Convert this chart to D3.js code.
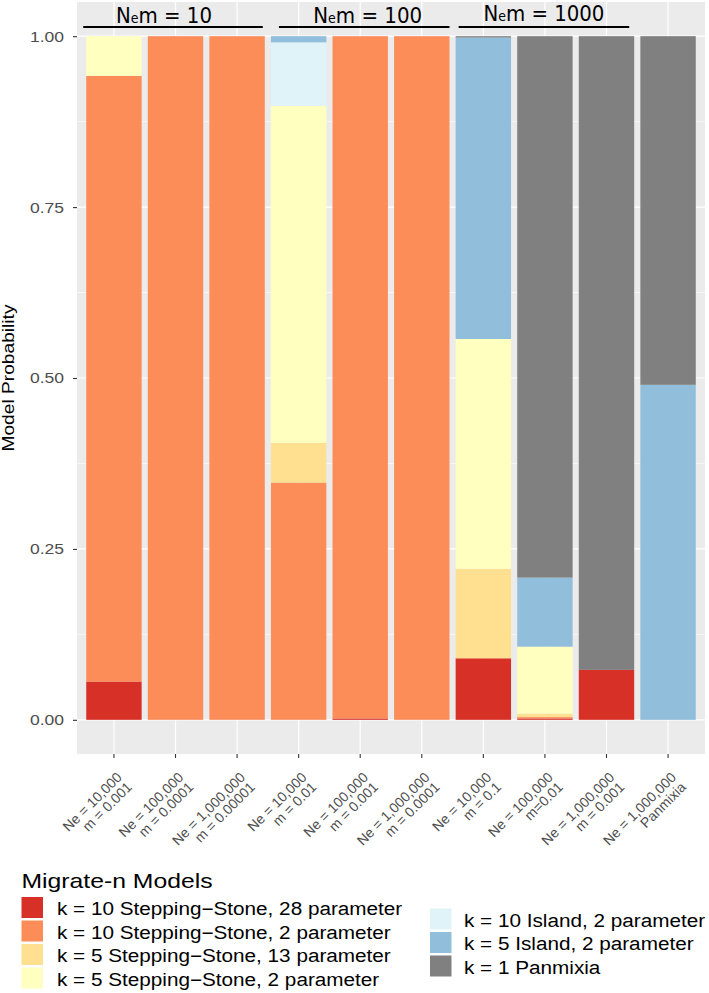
<!DOCTYPE html>
<html><head><meta charset="utf-8">
<script src="https://cdn.jsdelivr.net/npm/d3@7"></script>
<style>body{margin:0;background:#fff}</style>
</head><body>
<svg id="c" width="709" height="993"></svg>
<script>
const categories = [
  ["Ne = 10,000","m = 0.001"],
  ["Ne = 100,000","m = 0.0001"],
  ["Ne = 1,000,000","m = 0.00001"],
  ["Ne = 10,000","m = 0.01"],
  ["Ne = 100,000","m = 0.001"],
  ["Ne = 1,000,000","m = 0.0001"],
  ["Ne = 10,000","m = 0.1"],
  ["Ne = 100,000","m=0.01"],
  ["Ne = 1,000,000","m = 0.001"],
  ["Ne = 1,000,000","Panmixia"]
];
const models = [
  "k = 10 Stepping\u2212Stone, 28 parameter",
  "k = 10 Stepping\u2212Stone, 2 parameter",
  "k = 5 Stepping\u2212Stone, 13 parameter",
  "k = 5 Stepping\u2212Stone, 2 parameter",
  "k = 10 Island, 2 parameter",
  "k = 5 Island, 2 parameter",
  "k = 1 Panmixia"
];
const colors = ["#D73027","#FC8D59","#FEE090","#FFFFBF","#E0F3F8","#91BFDB","#808080"];
// values per model (rows) for each category (columns)
const ss28   = [0.056, 0,     0,     0,     0.002, 0,     0.090, 0.002, 0.073, 0];
const ss2    = [0.886, 1.000, 1.000, 0.347, 0.998, 1.000, 0,     0.002, 0,     0];
const ss13   = [0,     0,     0,     0.058, 0,     0,     0.131, 0.005, 0,     0];
const ss5_2  = [0.058, 0,     0,     0.493, 0,     0,     0.336, 0.098, 0,     0];
const isl10  = [0,     0,     0,     0.093, 0,     0,     0,     0,     0,     0];
const isl5   = [0,     0,     0,     0.009, 0,     0,     0.441, 0.101, 0,     0.490];
const panmix = [0,     0,     0,     0,     0,     0,     0.002, 0.792, 0.927, 0.510];
const seriesValues = [ss28, ss2, ss13, ss5_2, isl10, isl5, panmix];
const yTicks = [0, 0.25, 0.5, 0.75, 1.0];
const yTickLabels = ["0.00","0.25","0.50","0.75","1.00"];
const groups = [
  {label:"10", from:0, to:2},
  {label:"100", from:3, to:5},
  {label:"1000", from:6, to:8}
];

const svg = d3.select("#c");
const L = 77, R = 705, T = 2, B = 754;
const x = d3.scaleBand().domain(d3.range(categories.length)).range([L, R]).paddingInner(0.1).paddingOuter(0.15);
const y = d3.scaleLinear().domain([-0.05, 1.05]).range([B, T]);
const sf = "Liberation Sans, Arial, Helvetica, sans-serif";
function stretch(sel, k){ sel.each(function(){ const w=this.getComputedTextLength(); d3.select(this).attr("textLength", w*k).attr("lengthAdjust","spacingAndGlyphs"); }); }

svg.append("rect").attr("x", L).attr("y", T).attr("width", R-L).attr("height", B-T).attr("fill", "#EBEBEB");
const grid = svg.append("g");
[0.125,0.375,0.625,0.875].forEach(v=>grid.append("line").attr("x1",L).attr("x2",R).attr("y1",y(v)).attr("y2",y(v)).attr("stroke","#fff").attr("stroke-width",0.6));
yTicks.forEach(v=>grid.append("line").attr("x1",L).attr("x2",R).attr("y1",y(v)).attr("y2",y(v)).attr("stroke","#fff").attr("stroke-width",1.2));
categories.forEach((c,i)=>{const cx=x(i)+x.bandwidth()/2; grid.append("line").attr("x1",cx).attr("x2",cx).attr("y1",T).attr("y2",B).attr("stroke","#fff").attr("stroke-width",1.2);});

const stackData = categories.map((c,i)=>{const o={i}; models.forEach((m,j)=>o[j]=seriesValues[j][i]); return o;});
const stack = d3.stack().keys(d3.range(models.length))(stackData);
svg.append("g").selectAll("g").data(stack).join("g").attr("fill",(d,j)=>colors[j])
  .selectAll("rect").data(d=>d).join("rect")
  .attr("x",d=>x(d.data.i)).attr("width",x.bandwidth())
  .attr("y",d=>y(d[1])).attr("height",d=>Math.max(0,y(d[0])-y(d[1])));

// y axis
const yAxis = svg.append("g").attr("transform",`translate(${L},0)`)
  .call(d3.axisLeft(y).tickValues(yTicks).tickFormat((d,i)=>yTickLabels[i]).tickSize(4).tickPadding(9));
yAxis.select(".domain").remove();
yAxis.selectAll(".tick line").attr("stroke","#333").attr("stroke-width",1.1);
yAxis.selectAll(".tick text").attr("fill","#4D4D4D").style("font-family",sf).style("font-size","15.5px");
stretch(yAxis.selectAll(".tick text"), 1.13);

svg.append("text").attr("transform","translate(14,378) rotate(-90)").attr("text-anchor","middle")
  .style("font-family",sf).style("font-size","16.5px").attr("fill","#000")
  .attr("textLength",147).attr("lengthAdjust","spacingAndGlyphs").text("Model Probability");

// x axis
const xAxis = svg.append("g").attr("transform",`translate(0,${B})`)
  .call(d3.axisBottom(x).tickSize(4).tickFormat(""));
xAxis.select(".domain").remove();
xAxis.selectAll(".tick line").attr("stroke","#333").attr("stroke-width",1.1);
categories.forEach((c,i)=>{
  const cx = x(i)+x.bandwidth()/2;
  const g = svg.append("g").attr("transform",`translate(${cx},${B+4}) rotate(-45)`);
  c.forEach((t,k)=>g.append("text").attr("x",-8).attr("y",20.5+k*14).attr("text-anchor","end")
    .style("font-family",sf).style("font-size","14px").attr("fill","#4D4D4D").text(t));
});

// group annotations
const offs = [[-3,-2],[8,0],[3,-5]];
const textShift = [-9, 3.5, 0];
const textW = [96, 109, 121];
groups.forEach((gp,k)=>{
  const x1 = x(gp.from)+offs[k][0], x2 = x(gp.to)+x.bandwidth()+offs[k][1];
  svg.append("line").attr("x1",x1).attr("x2",x2).attr("y1",27).attr("y2",27).attr("stroke","#000").attr("stroke-width",2.2);
  const t = svg.append("text").attr("x",(x1+x2)/2 + textShift[k]).attr("y",k===2?21:23).attr("text-anchor","middle")
    .style("font-family","Liberation Sans Narrow, DejaVu Sans Condensed, sans-serif").style("font-size","22px").attr("fill","#000")
    .attr("textLength",textW[k]).attr("lengthAdjust","spacingAndGlyphs");
  t.append("tspan").text("N");
  t.append("tspan").style("font-size","14px").text("e");
  t.append("tspan").text("m = "+gp.label);
});

// legend
svg.append("text").attr("x",21.5).attr("y",888).style("font-family",sf).style("font-size","21px").attr("fill","#000")
  .attr("textLength",191).attr("lengthAdjust","spacingAndGlyphs").text("Migrate-n Models");
models.forEach((m,j)=>{
  const col = j<4?0:1, row = j<4?j:j-4;
  const kx = col===0?21.5:430, ky = (col===0?897:908.5) + row*23.5;
  svg.append("rect").attr("x",kx).attr("y",ky).attr("width",21.5).attr("height",21).attr("fill",colors[j]);
  const tx = svg.append("text").attr("x",col===0?57:464).attr("y",ky+18).style("font-family",sf).style("font-size","18px").attr("fill","#000").text(m);
  stretch(tx, 1.15);
});
</script>
</body></html>
